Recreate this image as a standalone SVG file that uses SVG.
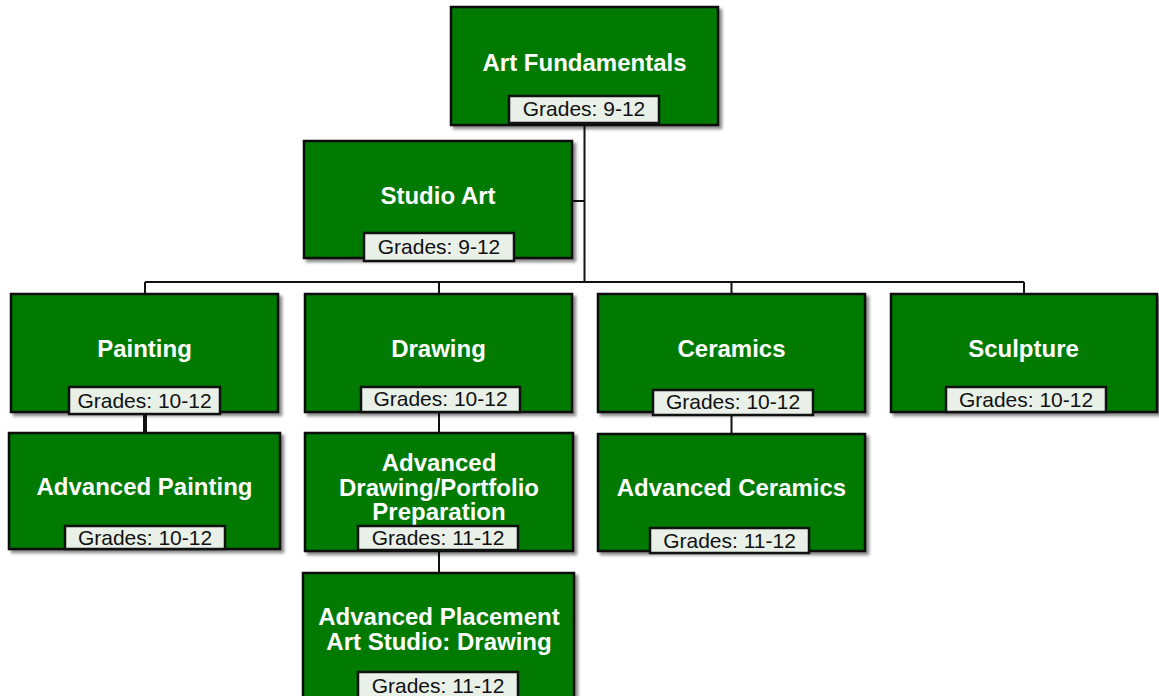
<svg xmlns="http://www.w3.org/2000/svg" width="1159" height="696" viewBox="0 0 1159 696">
<defs>
<filter id="sh" x="-5%" y="-5%" width="115%" height="120%">
<feDropShadow dx="3" dy="3" stdDeviation="1.5" flood-color="#000" flood-opacity="0.45"/>
</filter>
<style>
.box{fill:#017a01;stroke:#111;stroke-width:2.5;filter:url(#sh)}
.lbl{fill:#e8f0e8;stroke:#111;stroke-width:2.5}
.t{font-family:"Liberation Sans",Arial,sans-serif;font-weight:bold;font-size:24px;fill:#fff;text-anchor:middle}
.g{font-family:"Liberation Sans",Arial,sans-serif;font-size:21px;fill:#111;text-anchor:middle}
.c{fill:none;stroke:#111;stroke-width:2}
</style>
</defs>
<rect width="1159" height="696" fill="#fff"/>
<g id="connectors">
<path class="c" d="M584.5 125 V282 M572 201 H584.5 M145 282 H1024 M145 282 V294 M439 282 V294 M731.5 282 V294 M1024 282 V294"/>
<path class="c" d="M145 414 V433" style="stroke-width:4"/>
<path class="c" d="M439 412 V433 M439 551 V573 M731.5 415 V434"/>
</g>
<g id="art-fundamentals">
<rect class="box" x="451" y="7" width="267" height="118"/>
<text class="t" x="584.5" y="71">Art Fundamentals</text>
<rect class="lbl" x="509" y="96" width="150" height="27"/>
<text class="g" x="584" y="116">Grades: 9-12</text>
</g>
<g id="studio-art">
<rect class="box" x="304" y="141" width="268" height="117"/>
<text class="t" x="438" y="204">Studio Art</text>
<rect class="lbl" x="364" y="233" width="150" height="28"/>
<text class="g" x="439" y="254">Grades: 9-12</text>
</g>
<g id="painting">
<rect class="box" x="11" y="294" width="267" height="118"/>
<text class="t" x="144.5" y="357">Painting</text>
<rect class="lbl" x="69" y="387" width="151" height="27"/>
<text class="g" x="144.5" y="408">Grades: 10-12</text>
</g>
<g id="drawing">
<rect class="box" x="305" y="294" width="267" height="118"/>
<text class="t" x="438.5" y="357">Drawing</text>
<rect class="lbl" x="361" y="387" width="159" height="25"/>
<text class="g" x="440.5" y="406">Grades: 10-12</text>
</g>
<g id="ceramics">
<rect class="box" x="598" y="294" width="267" height="118"/>
<text class="t" x="731.5" y="357">Ceramics</text>
<rect class="lbl" x="653" y="390" width="160" height="25"/>
<text class="g" x="733" y="409">Grades: 10-12</text>
</g>
<g id="sculpture">
<rect class="box" x="891" y="294" width="266" height="118"/>
<text class="t" x="1023.5" y="357">Sculpture</text>
<rect class="lbl" x="946" y="387" width="160" height="25"/>
<text class="g" x="1026" y="407">Grades: 10-12</text>
</g>
<g id="advanced-painting">
<rect class="box" x="9" y="433" width="271" height="116"/>
<text class="t" x="144.5" y="495">Advanced Painting</text>
<rect class="lbl" x="65" y="526" width="160" height="23"/>
<text class="g" x="145" y="545">Grades: 10-12</text>
</g>
<g id="advanced-drawing">
<rect class="box" x="305" y="433" width="268" height="118"/>
<text class="t" x="439" y="471"><tspan x="439" y="471">Advanced</tspan><tspan x="439" y="496">Drawing/Portfolio</tspan><tspan x="439" y="520">Preparation</tspan></text>
<rect class="lbl" x="358" y="526" width="160" height="24"/>
<text class="g" x="438" y="545">Grades: 11-12</text>
</g>
<g id="advanced-ceramics">
<rect class="box" x="598" y="434" width="267" height="117"/>
<text class="t" x="731.5" y="496">Advanced Ceramics</text>
<rect class="lbl" x="650" y="528" width="159" height="25"/>
<text class="g" x="729.5" y="548">Grades: 11-12</text>
</g>
<g id="ap-art-studio-drawing">
<rect class="box" x="303" y="573" width="271" height="140"/>
<text class="t" x="439" y="625"><tspan x="439" y="625">Advanced Placement</tspan><tspan x="439" y="650">Art Studio: Drawing</tspan></text>
<rect class="lbl" x="358" y="672" width="160" height="30"/>
<text class="g" x="438" y="693">Grades: 11-12</text>
</g>
</svg>
